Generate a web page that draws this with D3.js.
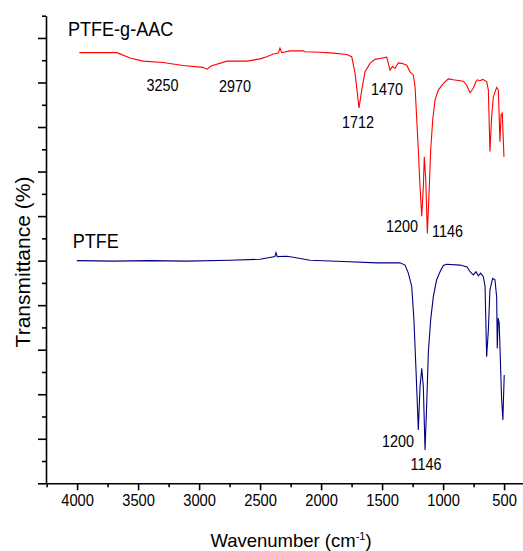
<!DOCTYPE html>
<html>
<head>
<meta charset="utf-8">
<script src="https://cdn.jsdelivr.net/npm/d3@7"></script>
<style>
body { margin: 0; background: #fff; }
text { font-family: Arial, "Liberation Sans", sans-serif; fill: #000; }
</style>
</head>
<body>
<script>
// wavenumber (cm-1) and transmittance (arb. units)
let graftedWn = [3982, 3673, 3566, 3460, 3296, 3132, 2968, 2935, 2902, 2771, 2607, 2501,
	2446, 2392, 2351, 2337, 2323, 2255, 2146, 2132, 2009, 1900, 1790, 1749, 1722, 1689,
	1667, 1640, 1599, 1558, 1517, 1462, 1449, 1435, 1416, 1394, 1367, 1339, 1298, 1271,
	1244, 1230, 1217, 1203, 1189, 1175, 1162, 1154, 1142, 1129, 1113, 1102, 1085, 1066,
	1039, 998, 957, 916, 834, 806, 779, 752, 730, 720, 697, 675, 643, 629, 616, 602, 588,
	561, 547, 534, 525, 515, 501];
let graftedT = [96.7, 96.7, 95.5, 94.8, 94.5, 93.8, 93.4, 93.0, 93.7, 94.8, 94.8, 95.3,
	95.8, 96.4, 96.6, 97.7, 96.7, 97.1, 97.1, 96.9, 96.8, 96.6, 96.3, 95.8, 92.1, 84.3,
	88.3, 92.4, 94.3, 95.2, 95.4, 95.7, 94.3, 92.8, 93.6, 93.2, 94.4, 94.3, 93.9, 92.4,
	91.7, 89.1, 82.3, 74.8, 66.6, 60.0, 66.6, 73.3, 68.1, 56.1, 66.6, 74.8, 81.6, 86.1,
	88.3, 89.8, 90.8, 90.6, 90.3, 89.4, 87.7, 88.7, 90.2, 90.6, 90.4, 90.7, 90.2, 88.3,
	74.5, 82.3, 86.8, 88.9, 88.3, 76.7, 82.7, 83.1, 73.3];

let ptfeWn = [4003, 3700, 3402, 3100, 2747, 2501, 2378, 2370, 2359, 2282, 2228, 2091,
	1818, 1544, 1353, 1312, 1285, 1257, 1239, 1222, 1203, 1189, 1175, 1162, 1148, 1134,
	1121, 1102, 1080, 1053, 1025, 998, 971, 861, 803, 779, 752, 730, 711, 692, 670, 656,
	643, 629, 616, 594, 575, 561, 556, 548, 540, 521, 510, 499];
let ptfeT = [50.0, 49.9, 50.0, 49.9, 50.1, 50.3, 50.9, 51.8, 50.9, 51.0, 50.75, 50.1,
	49.8, 49.5, 49.5, 49.0, 47.2, 44.2, 36.7, 25.4, 12.0, 21.7, 25.8, 21.7, 7.5, 18.0,
	29.3, 36.7, 41.9, 45.7, 47.5, 48.9, 49.2, 49.0, 48.6, 47.5, 46.8, 47.5, 46.6, 47.2,
	46.4, 44.2, 28.4, 34.4, 43.4, 46.0, 45.7, 41.9, 30.3, 37.1, 35.9, 19.4, 14.2, 24.3];

let xMajorTicks = [4000, 3500, 3000, 2500, 2000, 1500, 1000, 500];
let xMinorTicks = [4250, 3750, 3250, 2750, 2250, 1750, 1250, 750];
let yMajorTicks = [0, 10, 20, 30, 40, 50, 60, 70, 80, 90, 100];
let yMinorTicks = [5, 15, 25, 35, 45, 55, 65, 75, 85, 95, 105];

// peak labels: text, wavenumber, transmittance of the text baseline
let peakLabels = ["3250", "2970", "1712", "1470", "1200", "1146", "1200", "1146"];
let peakWn = [3300, 2706, 1698, 1460, 1337, 964, 1370, 1140];
let peakT = [88.1, 87.9, 79.8, 87.2, 56.4, 55.3, 8.15, 3.0];

let seriesNames = ["PTFE-g-AAC", "PTFE"];
let seriesNameWn = [4075, 4036];
let seriesNameT = [100.5, 52.8];

let width = 523, height = 551;

let svg = d3.select("body").append("svg")
	.attr("width", width)
	.attr("height", height);

let xScale = d3.scaleLinear().domain([4255, 345]).range([46, 523]);
let yScale = d3.scaleLinear().domain([0, 105]).range([483.3, 15.7]);

// axes: major ticks longer than minor ones
let xAxisEl = svg.append("g").attr("transform", "translate(0," + yScale(0) + ")");
xAxisEl.append("g")
	.call(d3.axisBottom(xScale).tickValues(xMinorTicks).tickSize(4).tickFormat(""))
	.call(g => g.select(".domain").remove());
xAxisEl.append("g")
	.call(d3.axisBottom(xScale).tickValues(xMajorTicks).tickSize(7).tickSizeOuter(0)
		.tickPadding(4).tickFormat(d3.format("d")));
xAxisEl.selectAll(".tick text")
	.attr("font-size", "16px")
	.attr("font-family", null)
	.attr("transform", "scale(0.92,1)");

let yAxisEl = svg.append("g").attr("transform", "translate(" + xScale(4255) + ",0)");
yAxisEl.append("g")
	.call(d3.axisLeft(yScale).tickValues(yMinorTicks).tickSize(4).tickFormat(""))
	.call(g => g.select(".domain").remove());
yAxisEl.append("g")
	.call(d3.axisLeft(yScale).tickValues(yMajorTicks).tickSize(8).tickSizeOuter(0).tickFormat(""));

svg.selectAll(".domain, .tick line").attr("stroke", "#000").attr("stroke-width", 1.6);

// spectra
let line = d3.line()
	.x(d => xScale(d[0]))
	.y(d => yScale(d[1]));

svg.append("path")
	.datum(d3.zip(graftedWn, graftedT))
	.attr("fill", "none")
	.attr("stroke", "#ff0000")
	.attr("stroke-width", 1.1)
	.attr("d", line);

svg.append("path")
	.datum(d3.zip(ptfeWn, ptfeT))
	.attr("fill", "none")
	.attr("stroke", "#000080")
	.attr("stroke-width", 1.1)
	.attr("d", line);

// peak annotations
svg.selectAll(".peak")
	.data(d3.range(peakLabels.length))
	.join("text")
	.attr("class", "peak")
	.attr("text-anchor", "middle")
	.attr("font-size", "16px")
	.attr("transform", i => "translate(" + xScale(peakWn[i]) + "," + yScale(peakT[i]) + ") scale(0.9,1)")
	.text(i => peakLabels[i]);

// series names
svg.selectAll(".series-name")
	.data(d3.range(seriesNames.length))
	.join("text")
	.attr("class", "series-name")
	.attr("font-size", "21px")
	.attr("transform", i => "translate(" + xScale(seriesNameWn[i]) + "," + yScale(seriesNameT[i]) + ") scale(0.86,1)")
	.text(i => seriesNames[i]);

// axis titles
let xTitle = svg.append("text")
	.attr("x", 291)
	.attr("y", 547)
	.attr("text-anchor", "middle")
	.attr("font-size", "18.5px");
xTitle.append("tspan").text("Wavenumber (cm");
xTitle.append("tspan").attr("font-size", "11px").attr("dy", -7).text("-1");
xTitle.append("tspan").attr("dy", 7).text(")");

svg.append("text")
	.attr("transform", "translate(30,262) rotate(-90)")
	.attr("text-anchor", "middle")
	.attr("font-size", "21px")
	.text("Transmittance (%)");
</script>
</body>
</html>
